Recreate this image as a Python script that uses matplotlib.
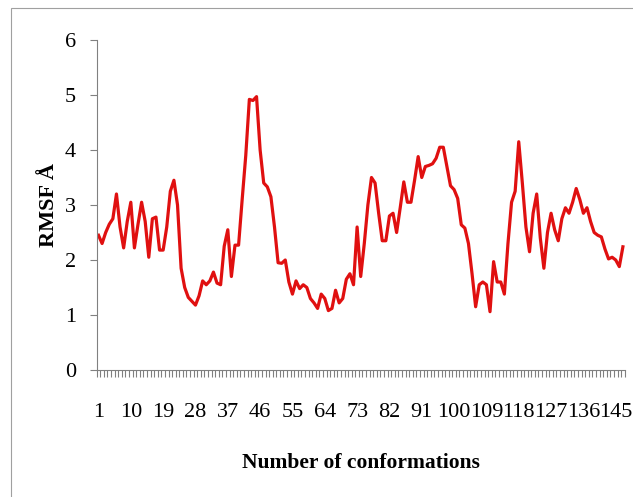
import matplotlib
matplotlib.use("Agg")
import matplotlib.pyplot as plt
import numpy as np
from matplotlib.patches import Rectangle

# RMSF per conformation
rmsf = [
    2.45, 2.30, 2.50, 2.65, 2.75, 3.20, 2.60, 2.22, 2.70, 3.05,
    2.22, 2.65, 3.05, 2.70, 2.05, 2.75, 2.78, 2.18, 2.18, 2.60,
    3.25, 3.45, 3.00, 1.85, 1.50, 1.32, 1.25, 1.18, 1.35, 1.62,
    1.55, 1.62, 1.78, 1.58, 1.55, 2.25, 2.55, 1.70, 2.27, 2.27,
    3.10, 3.90, 4.92, 4.90, 4.97, 4.00, 3.40, 3.33, 3.15, 2.60,
    1.95, 1.94, 2.00, 1.60, 1.38, 1.62, 1.48, 1.55, 1.50, 1.30,
    1.22, 1.12, 1.38, 1.30, 1.08, 1.12, 1.45, 1.22, 1.30, 1.65,
    1.75, 1.55, 2.60, 1.70, 2.30, 3.00, 3.50, 3.40, 2.85, 2.35,
    2.35, 2.80, 2.85, 2.50, 2.95, 3.42, 3.05, 3.05, 3.45, 3.88,
    3.50, 3.70, 3.72, 3.75, 3.85, 4.05, 4.05, 3.70, 3.35, 3.28,
    3.12, 2.64, 2.58, 2.30, 1.75, 1.15, 1.55, 1.60, 1.55, 1.06,
    1.97, 1.60, 1.60, 1.38, 2.30, 3.05, 3.25, 4.15, 3.40, 2.60,
    2.15, 2.85, 3.20, 2.40, 1.85, 2.50, 2.85, 2.55, 2.35, 2.75,
    2.95, 2.85, 3.05, 3.30, 3.10, 2.85, 2.95, 2.70, 2.50, 2.45,
    2.42, 2.20, 2.02, 2.05, 2.00, 1.88, 2.24,
]
conf = np.arange(1, len(rmsf) + 1)
label_pos = conf[::9]

plt.rcParams['font.family'] = ['Liberation Serif', 'DejaVu Serif']

fig = plt.figure(figsize=(6.33, 4.97), dpi=100)
fig.patches.append(Rectangle((11 / 633, -0.1), 1.2, (497 - 8) / 497 + 0.1,
                             transform=fig.transFigure, fill=False,
                             edgecolor='#a0a0a0', linewidth=0.8))
ax = fig.add_axes([96.7 / 633, 127 / 497, 528 / 633, 330 / 497])

ax.plot(conf, rmsf, color='#e01010', linewidth=2.3, solid_joinstyle='round')

ax.set_xlim(0.5, len(rmsf) + 0.5)
ax.set_ylim(0, 6)
ax.set_yticks(range(0, 7))
ax.set_xticks(label_pos)
ax.set_xticks(np.arange(0.5, len(rmsf) + 1), minor=True)
ax.tick_params(axis='x', which='major', length=0, pad=24, labelsize=16)
ax.tick_params(axis='x', which='minor', length=5, color='#808080', width=0.8)
ax.tick_params(axis='y', length=5, color='#808080', width=0.8, labelsize=16, pad=10)

for s in ['top', 'right']:
    ax.spines[s].set_visible(False)
for s in ['left', 'bottom']:
    ax.spines[s].set_color('#808080')
    ax.spines[s].set_linewidth(0.8)

ax.set_xlabel('Number of conformations', fontsize=15.5, fontweight='bold', labelpad=22)
ax.set_ylabel('RMSF Å', fontsize=16, fontweight='bold', labelpad=4)

fig.savefig('out.png', dpi=100)
